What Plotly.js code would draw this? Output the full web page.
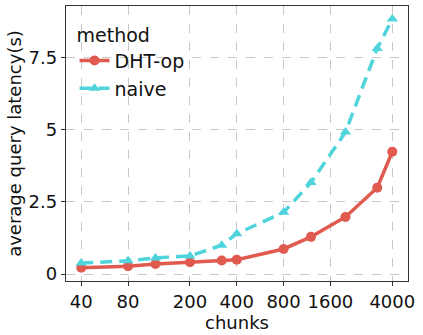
<!DOCTYPE html>
<html>
<head>
<meta charset="utf-8">
<script src="https://cdn.plot.ly/plotly-3.0.1.min.js"></script>
<style>
  html, body { margin: 0; padding: 0; background: #fff; }
  #plot { width: 423px; height: 335px; }
</style>
</head>
<body>
<div id="plot"></div>
<script>
// chunk counts (log x axis)
const chunks = [40, 80, 120, 200, 320, 400, 800, 1200, 2000, 3200, 4000];
// average query latency (s)
const dhtOp = [0.22, 0.27, 0.35, 0.41, 0.47, 0.50, 0.87, 1.29, 1.98, 2.99, 4.24];
const naive = [0.38, 0.46, 0.56, 0.63, 1.00, 1.40, 2.14, 3.17, 4.92, 7.82, 8.84];

const xTicks = [40, 80, 200, 400, 800, 1600, 4000];
const yTicks = [0, 2.5, 5, 7.5];

const font = 'DejaVu Sans, sans-serif';

const traces = [
  {
    x: chunks, y: dhtOp, name: 'DHT-op', mode: 'lines+markers',
    line: {color: '#e05a50', width: 3.5},
    marker: {symbol: 'circle', size: 10, color: '#e05a50'}
  },
  {
    x: chunks, y: naive, name: 'naive', mode: 'lines+markers',
    line: {color: '#4fd4dc', width: 3.5, dash: '12px,7px'},
    marker: {symbol: 'triangle-up', size: 10, color: '#4fd4dc'}
  }
];

const axisCommon = {
  showline: true, mirror: true, linecolor: '#333', linewidth: 1.2,
  showgrid: true, gridcolor: '#c8c8c8', griddash: 'dash', gridwidth: 1,
  ticks: 'outside', ticklen: 4, tickcolor: '#333',
  zeroline: false,
  tickfont: {family: font, size: 18, color: '#111'}
};

const layout = {
  width: 423, height: 335,
  margin: {l: 66, r: 15, t: 6, b: 54},
  paper_bgcolor: '#fff', plot_bgcolor: '#fff',
  showlegend: true,
  legend: {
    x: 0.025, y: 0.96, xanchor: 'left', yanchor: 'top',
    bgcolor: 'rgba(255,255,255,0)', borderwidth: 0,
    title: {text: 'method', font: {family: font, size: 19, color: '#111'}},
    font: {family: font, size: 19, color: '#111'},
    itemwidth: 30, tracegroupgap: 0
  },
  xaxis: Object.assign({}, axisCommon, {
    type: 'log',
    range: [1.504, 3.703],
    tickvals: xTicks, ticktext: xTicks.map(String),
    title: {text: 'chunks', font: {family: font, size: 18, color: '#111'}, standoff: 0}
  }),
  yaxis: Object.assign({}, axisCommon, {
    range: [-0.24, 9.29],
    tickvals: yTicks, ticktext: yTicks.map(String),
    title: {text: 'average query latency(s)', font: {family: font, size: 18, color: '#111'}, standoff: 2}
  })
};

Plotly.newPlot('plot', traces, layout, {displayModeBar: false, staticPlot: true});
</script>
</body>
</html>
